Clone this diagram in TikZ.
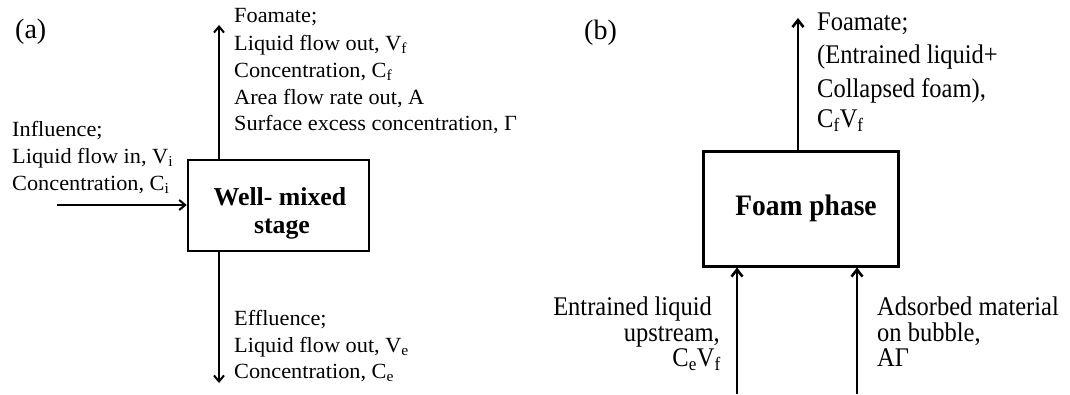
\documentclass[tikz,border=0pt]{standalone}
\usepackage{fontspec}
\setmainfont{Liberation Serif}
\usetikzlibrary{arrows.meta}
\newcommand\bstr[1]{\scalebox{1}[1.1]{#1}}
\newcommand\astr[1]{\scalebox{1}[0.97]{#1}}
\newcommand\bbstr[1]{\scalebox{1}[1.08]{#1}}
\begin{document}
\begin{tikzpicture}[x=1pt,y=-1pt,
  ta/.style={inner sep=0pt, font=\fontsize{22.3}{26}\selectfont, anchor=base west},
  tb/.style={inner sep=0pt, font=\fontsize{24.5}{28}\selectfont, anchor=base west},
  tbr/.style={tb, anchor=base east},
  lab/.style={inner sep=0pt, font=\fontsize{28}{32}\selectfont, anchor=base west},
  bolda/.style={inner sep=0pt, font=\fontsize{25.8}{30}\selectfont\bfseries, anchor=base},
  boldb/.style={inner sep=0pt, font=\fontsize{27.5}{30}\selectfont\bfseries, anchor=base},
  boxa/.style={draw, line width=2.5pt, minimum width=181pt, minimum height=91pt, inner sep=0pt},
  boxb/.style={draw, line width=3pt, minimum width=195pt, minimum height=115pt, inner sep=0pt},
  arra/.style={line width=2pt, -{Straight Barb[length=6pt,width=10pt]}},
  arrb/.style={line width=2.6pt, -{Straight Barb[length=7pt,width=11pt]}}
]
\useasboundingbox (0,0) rectangle (1070,394);

% ---------- panel (a) ----------
\node[lab] (la) at (15,38) {(a)};
\node[boxa] (wm) at (278.5,205.5) {};
\node[bolda] (wm1) at (280,205) {Well- mixed};
\node[bolda] (wm2) at (282,233) {stage};

\coordinate (atop) at (219,25);
\coordinate (abot) at (219,383);
\coordinate (ain) at (57,205);
\draw[arra] (atop |- wm.north) -- (atop);
\draw[arra] (abot |- wm.south) -- (abot);
\draw[arra] (ain) -- (ain -| wm.west);

\node[ta] (fa1) at (234,22)  {\astr{Foamate;}};
\node[ta] (fa2) at (234,50)  {\astr{Liquid flow out, V\textsubscript{f}}};
\node[ta] (fa3) at (234,77)  {\astr{Concentration, C\textsubscript{f}}};
\node[ta] (fa4) at (234,104) {\astr{Area flow rate out, A}};
\node[ta] (fa5) at (234,130) {\astr{Surface excess concentration, Γ}};

\node[ta] (ia1) at (12,136) {\astr{Influence;}};
\node[ta] (ia2) at (12,163) {\astr{Liquid flow in, V\textsubscript{i}}};
\node[ta] (ia3) at (12,190) {\astr{Concentration, C\textsubscript{i}}};

\node[ta] (ea1) at (234,325) {\astr{Effluence;}};
\node[ta] (ea2) at (234,352) {\astr{Liquid flow out, V\textsubscript{e}}};
\node[ta] (ea3) at (234,378) {\astr{Concentration, C\textsubscript{e}}};

% ---------- panel (b) ----------
\node[lab] (lb) at (584,39) {(b)};
\node[boxb] (fp) at (800.5,208.5) {};
\node[boldb] (fpt) at (806,215) {\bbstr{Foam phase}};

\coordinate (btop) at (798,18);
\coordinate (bl) at (737,394);
\coordinate (br) at (857,394);
\draw[arrb] (btop |- fp.north) -- (btop);
\draw[arrb] (bl) -- (bl |- fp.south);
\draw[arrb] (br) -- (br |- fp.south);

\node[tb] (fb1) at (817,30)  {\bstr{Foamate;}};
\node[tb] (fb2) at (817,63)  {\bstr{(Entrained liquid+}};
\node[tb] (fb3) at (817,97)  {\bstr{Collapsed foam),}};
\node[tb] (fb4) at (817,127) {\bstr{C\textsubscript{f}V\textsubscript{f}}};

\node[tbr] (el1) at (712,315) {\bstr{Entrained liquid}};
\node[tbr] (el2) at (720,341) {\bstr{upstream,}};
\node[tbr] (el3) at (721,366) {\bstr{C\textsubscript{e}V\textsubscript{f}}};

\node[tb] (am1) at (877,315) {\bstr{Adsorbed material}};
\node[tb] (am2) at (877,341) {\bstr{on bubble,}};
\node[tb] (am3) at (877,366) {\bstr{AΓ}};
\end{tikzpicture}
\end{document}
